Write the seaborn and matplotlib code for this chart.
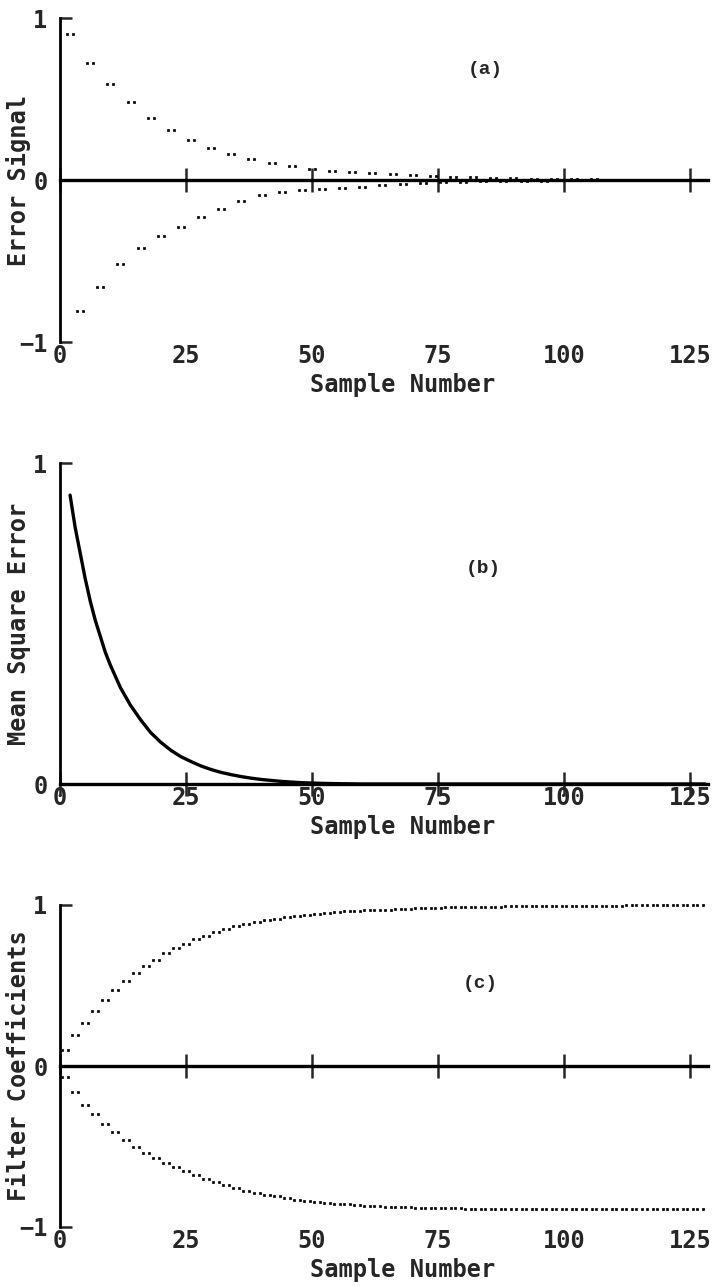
import matplotlib
matplotlib.use("Agg")
import matplotlib.pyplot as plt
from matplotlib.path import Path
import seaborn as sns

# ---------------- data ----------------
err_n = [2, 4, 6, 8, 10, 12, 14, 16, 18, 20, 22, 24, 26, 28, 30, 32,
         34, 36, 38, 40, 42, 44, 46, 48, 50, 52, 54, 56, 58, 60, 62, 64,
         66, 68, 70, 72, 74, 76, 78, 80, 82, 84, 86, 88, 90, 92, 94, 96,
         98, 100, 102, 104, 106, 108, 110, 112, 114, 116, 118, 120, 122, 124, 126, 128]
err_v = [0.90, -0.81, 0.72, -0.66, 0.59, -0.52, 0.48, -0.42, 0.38, -0.345, 0.31, -0.29,
         0.245, -0.23, 0.20, -0.18, 0.16, -0.13, 0.13, -0.095, 0.105, -0.075, 0.085, -0.06,
         0.067, -0.055, 0.055, -0.05, 0.05, -0.043, 0.043, -0.031, 0.037, -0.025, 0.031, -0.018,
         0.025, -0.014, 0.02, -0.011, 0.016, -0.008, 0.013, -0.006, 0.01, -0.005, 0.008, -0.004,
         0.006, -0.003, 0.005, -0.003, 0.004, -0.002, 0.003, -0.002, 0.003, -0.002, 0.002, -0.001,
         0.002, -0.001, 0.001, -0.001]

mse_n = [2, 3, 4, 5, 6, 7, 8, 9, 10, 12, 14, 16, 18, 20, 22, 24, 26, 28, 30, 32, 34, 36,
         38, 40, 42, 44, 46, 48, 50, 52, 55, 60, 70, 80, 90, 100, 110, 120, 128]
mse_v = [0.90, 0.80, 0.72, 0.64, 0.57, 0.51, 0.46, 0.41, 0.37, 0.30, 0.245, 0.20, 0.16,
         0.13, 0.105, 0.085, 0.07, 0.056, 0.045, 0.036, 0.029, 0.023, 0.018, 0.014, 0.011,
         0.008, 0.006, 0.004, 0.003, 0.002, 0.001, 0.0, 0.0, 0.0, 0.0, 0.0, 0.0, 0.0, 0.0]

coef_n = [1, 3, 5, 7, 9, 11, 13, 15, 17, 19, 21, 23, 25, 27, 29, 31, 33, 35, 37, 39,
          41, 43, 45, 47, 49, 51, 53, 55, 57, 59, 61, 63, 65, 67, 69, 71, 73, 75, 77, 79,
          81, 83, 85, 87, 89, 91, 93, 95, 97, 99, 101, 103, 105, 107, 109, 111, 113, 115,
          117, 119, 121, 123, 125, 127]
coef1_v = [0.10, 0.19, 0.27, 0.34, 0.41, 0.47, 0.53, 0.58, 0.62, 0.66, 0.70, 0.73, 0.76,
           0.79, 0.81, 0.83, 0.85, 0.87, 0.88, 0.895, 0.905, 0.915, 0.925, 0.93, 0.94, 0.945,
           0.95, 0.955, 0.96, 0.962, 0.966, 0.97, 0.972, 0.975, 0.977, 0.98, 0.982, 0.984,
           0.985, 0.987, 0.988, 0.989, 0.99, 0.99, 0.991, 0.992, 0.992, 0.993, 0.993, 0.994,
           0.994, 0.995, 0.995, 0.996, 0.996, 0.996, 0.997, 0.997, 0.997, 0.998, 0.998,
           0.998, 0.999, 0.999]
coef2_v = [-0.07, -0.16, -0.24, -0.30, -0.36, -0.41, -0.46, -0.50, -0.54, -0.57, -0.60,
           -0.63, -0.65, -0.68, -0.70, -0.72, -0.74, -0.76, -0.775, -0.79, -0.80, -0.81,
           -0.82, -0.83, -0.838, -0.845, -0.85, -0.855, -0.86, -0.865, -0.868, -0.871,
           -0.874, -0.876, -0.878, -0.88, -0.882, -0.883, -0.884, -0.885, -0.886, -0.886,
           -0.887, -0.887, -0.888, -0.888, -0.888, -0.889, -0.889, -0.889, -0.889, -0.89,
           -0.89, -0.89, -0.89, -0.89, -0.89, -0.89, -0.89, -0.89, -0.89, -0.89, -0.89, -0.89]

x_ticks = [0, 25, 50, 75, 100, 125]
x_labels = ["0", "25", "50", "75", "100", "125"]
xlabel = "Sample Number"
ylabels = ["Error Signal", "Mean Square Error", "Filter Coefficients"]
panel_tags = ["(a)", "(b)", "(c)"]

# ---------------- style ----------------
sns.set_style("white")
plt.rcParams["font.family"] = ["DejaVu Sans Mono", "DejaVu Sans"]
plt.rcParams["font.weight"] = "bold"
plt.rcParams["axes.labelweight"] = "bold"

W, H = 716, 1286
fig = plt.figure(figsize=(W / 100, H / 100), dpi=100)

left = 60 / W
width = (708 - 60) / W


def rect(top_px, bot_px):
    return [left, 1 - bot_px / H, width, (bot_px - top_px) / H]


ax_a = fig.add_axes(rect(18, 342))
ax_b = fig.add_axes(rect(463, 784))
ax_c = fig.add_axes(rect(905, 1227))

# two-dot plotter marker ("••")
verts, codes = [], []
for cx in (-1.0, 1.0):
    verts += [(cx - 0.36, -0.36), (cx + 0.36, -0.36), (cx + 0.36, 0.36),
              (cx - 0.36, 0.36), (cx - 0.36, -0.36)]
    codes += [Path.MOVETO, Path.LINETO, Path.LINETO, Path.LINETO, Path.CLOSEPOLY]
pair = Path(verts, codes)

FS = 17
LW = 2.0
MS = 36


def common(ax, ylab, zero_mid):
    ax.set_xlim(0, 128.6)
    ax.spines["right"].set_visible(False)
    for s in ax.spines.values():
        s.set_linewidth(LW)
        s.set_color("black")
    ax.set_xticks(x_ticks, labels=x_labels)
    if zero_mid:
        ax.set_ylim(-1, 1)
        ax.set_yticks([-1, 0, 1], labels=["\u22121", "0", "1"])
        ax.spines["bottom"].set_visible(False)
        ax.spines["top"].set_position(("data", 0))
        ax.spines["top"].set_linewidth(2.4)
        ax.tick_params(axis="x", top=True, bottom=False, labeltop=False,
                       labelbottom=True, direction="inout", length=17,
                       width=1.8, pad=-7, labelsize=FS)
    else:
        ax.set_ylim(0, 1)
        ax.set_yticks([0, 1], labels=["0", "1"])
        ax.spines["top"].set_visible(False)
        ax.spines["bottom"].set_linewidth(2.4)
        ax.tick_params(axis="x", top=False, bottom=True, direction="inout",
                       length=17, width=1.8, pad=-7, labelsize=FS)
    ax.tick_params(axis="y", left=True, direction="in", length=8.5, width=1.8,
                   pad=9, labelsize=FS)
    ax.set_xlabel(xlabel, fontsize=FS, fontweight="bold")
    ax.xaxis.set_label_coords(0.528, -0.096)
    ax.set_ylabel(ylab, fontsize=FS, fontweight="bold")
    ax.yaxis.set_label_coords(-0.045, 0.5)
    ax.grid(False)


# (a) error signal
sns.scatterplot(x=err_n, y=err_v, marker=pair, s=MS, color="black",
                edgecolor="black", linewidth=0.5, ax=ax_a, zorder=3, clip_on=False)
common(ax_a, ylabels[0], True)
ax_a.text(84.5, 0.685, panel_tags[0], ha="center", va="center", fontsize=14,
          family="Liberation Mono", fontweight="bold")

# (b) mean square error
sns.lineplot(x=mse_n, y=mse_v, color="black", linewidth=2.4, ax=ax_b)
common(ax_b, ylabels[1], False)
ax_b.text(84, 0.67, panel_tags[1], ha="center", va="center", fontsize=14,
          family="Liberation Mono", fontweight="bold")

# (c) filter coefficients
sns.scatterplot(x=coef_n, y=coef1_v, marker=pair, s=MS, color="black",
                edgecolor="black", linewidth=0.5, ax=ax_c, zorder=3, clip_on=False)
sns.scatterplot(x=coef_n, y=coef2_v, marker=pair, s=MS, color="black",
                edgecolor="black", linewidth=0.5, ax=ax_c, zorder=3, clip_on=False)
common(ax_c, ylabels[2], True)
ax_c.text(83.5, 0.51, panel_tags[2], ha="center", va="center", fontsize=14,
          family="Liberation Mono", fontweight="bold")

fig.savefig("out.png", dpi=100, facecolor="white")
